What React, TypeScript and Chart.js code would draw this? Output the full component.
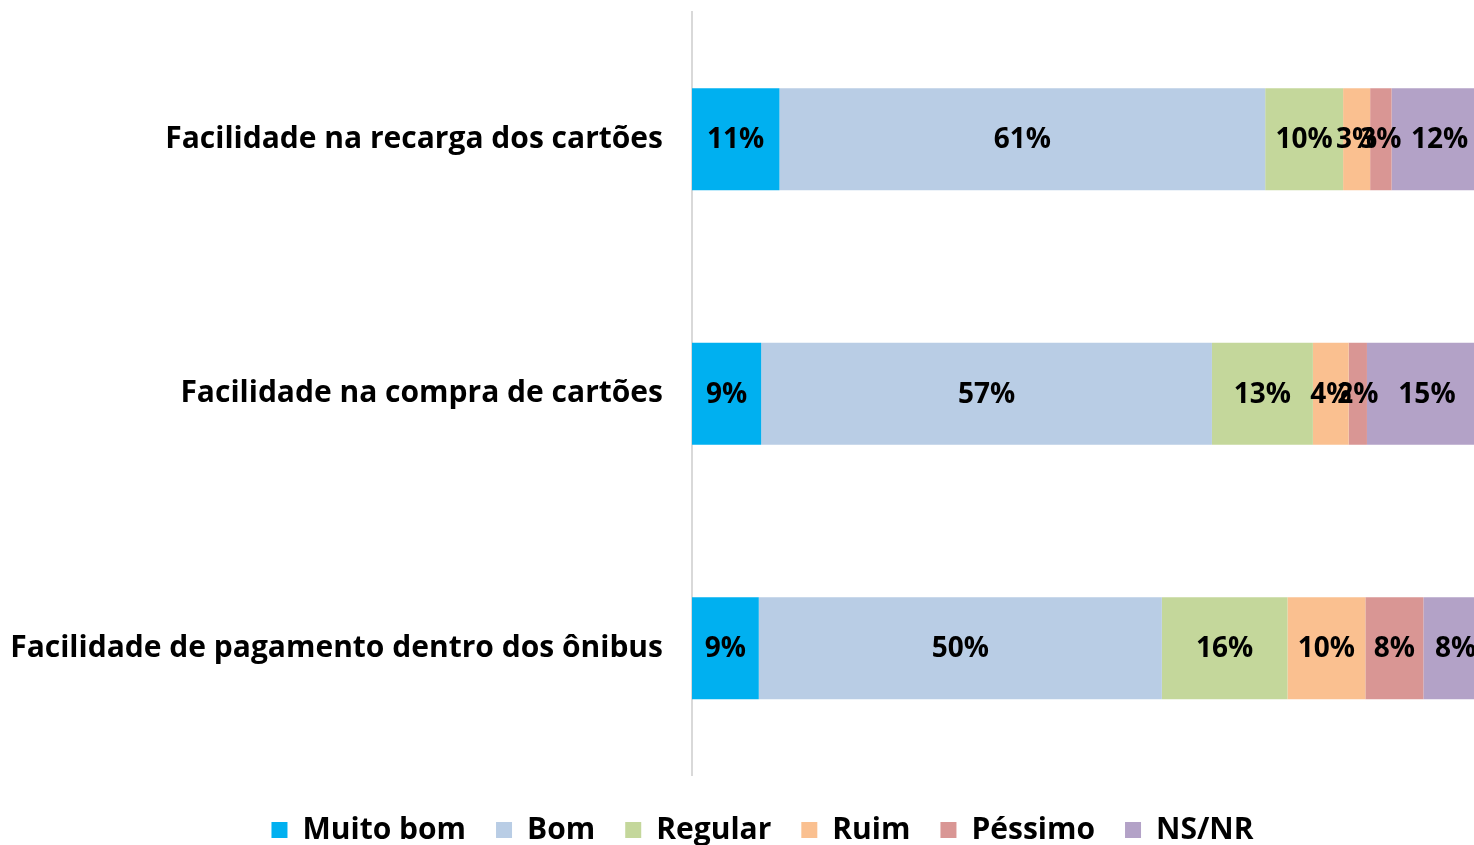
import { useEffect, useRef } from 'react';
import { Chart, registerables } from 'chart.js';

Chart.register(...registerables);

const categories = [
  'Facilidade na recarga dos cartões',
  'Facilidade na compra de cartões',
  'Facilidade de pagamento dentro dos ônibus',
];

const seriesNames = ['Muito bom', 'Bom', 'Regular', 'Ruim', 'Péssimo', 'NS/NR'];
const seriesColors = ['#00B0F0', '#B9CDE5', '#C4D79B', '#FAC090', '#D99694', '#B3A2C7'];

// segment widths (percent)
const muitoBom = [11.0, 8.7, 8.4];
const bom = [61.1, 56.7, 50.7];
const regular = [9.8, 12.7, 15.8];
const ruim = [3.4, 4.5, 9.8];
const pessimo = [2.7, 2.3, 7.3];
const nsnr = [12.1, 15.1, 8.1];

// labels printed on the segments (rounded percents)
const muitoBomPct = [11, 9, 9];
const bomPct = [61, 57, 50];
const regularPct = [10, 13, 16];
const ruimPct = [3, 4, 10];
const pessimoPct = [3, 2, 8];
const nsnrPct = [12, 15, 8];

const seriesValues = [muitoBom, bom, regular, ruim, pessimo, nsnr];
const seriesLabels = [muitoBomPct, bomPct, regularPct, ruimPct, pessimoPct, nsnrPct];

const FONT = '"Open Sans"';
const W = 1525;
const H = 855;
const AXIS_X = 692; // left edge of the plot area
const FULL_X = 1487; // where 100% ends (beyond the visible window)
const X_MAX = (100 * (W - AXIS_X)) / (FULL_X - AXIS_X);

const dataLabelPlugin = {
  id: 'segmentLabels',
  afterDatasetsDraw(chart: any) {
    const ctx = chart.ctx;
    ctx.save();
    ctx.font = `bold 28px ${FONT}`;
    ctx.fillStyle = '#000';
    ctx.textAlign = 'center';
    ctx.textBaseline = 'middle';
    chart.data.datasets.forEach((_ds: any, i: number) => {
      const meta = chart.getDatasetMeta(i);
      meta.data.forEach((bar: any, j: number) => {
        const p = bar.getCenterPoint();
        ctx.fillText(`${seriesLabels[i][j]}%`, p.x, p.y + 1);
      });
    });
    ctx.restore();
  },
};

export default function App() {
  const ref = useRef<HTMLCanvasElement>(null);

  useEffect(() => {
    let chart: Chart | null = null;
    let cancelled = false;
    const make = () => {
      if (cancelled || !ref.current) return;
      chart = new Chart(ref.current, {
        type: 'bar',
        data: {
          labels: categories,
          datasets: seriesNames.map((name, i) => ({
            label: name,
            data: seriesValues[i],
            backgroundColor: seriesColors[i],
            borderWidth: 0,
            categoryPercentage: 0.8,
            barPercentage: 0.5,
          })),
        },
        options: {
          indexAxis: 'y',
          responsive: false,
          animation: false,
          devicePixelRatio: 1,
          layout: { padding: { top: 12, left: 0, right: 0, bottom: 0 } },
          scales: {
            x: { stacked: true, min: 0, max: X_MAX, display: false },
            y: {
              stacked: true,
              grid: { display: false, drawTicks: false },
              border: { display: true, color: '#d9d9d9', width: 2 },
              ticks: {
                color: '#000',
                padding: 29,
                font: { family: FONT, size: 30, weight: 'bold' },
              },
              afterFit: (scale: any) => {
                scale.width = AXIS_X;
                scale.paddingTop = 0;
                scale.paddingBottom = 0;
              },
            },
          },
          plugins: {
            legend: {
              position: 'bottom',
              title: {
                display: true,
                text: ' ',
                font: { size: 1, lineHeight: 1 },
                padding: { top: 8.5, bottom: 0 },
              },
              labels: {
                color: '#000',
                boxWidth: 16,
                boxHeight: 16,
                padding: 30,
                font: { family: FONT, size: 30, weight: 'bold' },
              },
            },
            tooltip: { enabled: false },
          },
        },
        plugins: [dataLabelPlugin],
      } as any);
    };
    const fonts: any = (document as any).fonts;
    if (fonts && fonts.load) {
      Promise.all([fonts.load(`bold 30px ${FONT}`), fonts.load(`bold 28px ${FONT}`)])
        .catch(() => null)
        .then(make);
    } else {
      make();
    }
    return () => {
      cancelled = true;
      if (chart) chart.destroy();
    };
  }, []);

  return (
    <div
      style={{
        position: 'absolute',
        left: 0,
        top: 0,
        width: 1474,
        height: 845,
        overflow: 'hidden',
        background: '#fff',
      }}
    >
      <canvas
        ref={ref}
        width={W}
        height={H}
        style={{ display: 'block', width: W, height: H }}
      />
    </div>
  );
}
